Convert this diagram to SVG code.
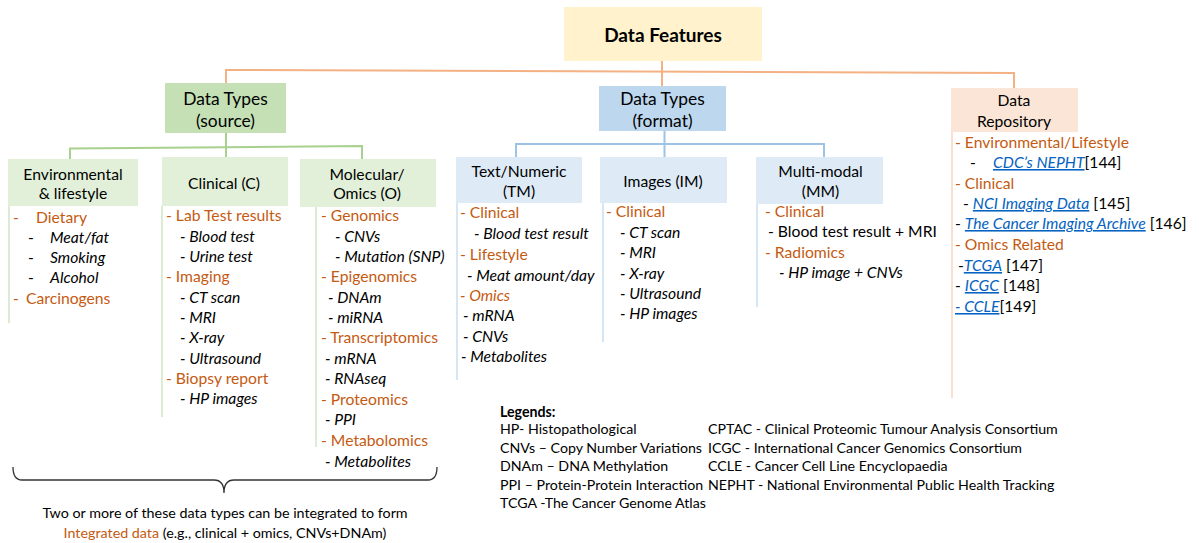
<svg xmlns="http://www.w3.org/2000/svg" width="1199" height="543" viewBox="0 0 1199 543">
  <style>
    text { font-family: Lato, "Liberation Sans", sans-serif; fill: #000; }
    .title { font-size: 19px; font-weight: bold; text-anchor: middle; }
    .h1 { font-size: 17.4px; text-anchor: middle; }
    .h2 { font-size: 15.7px; text-anchor: middle; }
    .li { font-size: 15.7px; }
    .o { fill: #C55A11; }
    .i { font-style: italic; }
    .lk { fill: #0563C1; font-style: italic; text-decoration: underline; }
    .lg { font-size: 14.2px; }
    .lgb { font-size: 14.2px; font-weight: bold; }
    .note { font-size: 14.3px; text-anchor: middle; }
    .col-g { stroke: #DCEBD2; stroke-width: 2; fill: none; }
    .col-b { stroke: #D6E6F5; stroke-width: 2; fill: none; }
    .col-o { stroke: #FBE0CF; stroke-width: 2; fill: none; }
    .c-o { stroke: #F4B183; stroke-width: 2; fill: none; }
    .c-g { stroke: #A9D18E; stroke-width: 2; fill: none; }
    .c-b { stroke: #9DC3E6; stroke-width: 2; fill: none; }
  </style>

  <!-- connectors -->
  <g id="connectors">
    <path class="c-o" d="M226,83 L226,70 L1014,73 L1014,88"/>
    <path class="c-o" d="M662,61 L662,86"/>
    <path class="c-g" d="M70,159 L70,148.5 L362,146 L362,159"/>
    <path class="c-g" d="M226,133 L226,157"/>
    <path class="c-b" d="M516,157 L516,144 L824,144 L824,157"/>
    <path class="c-b" d="M664.5,131 L664.5,157"/>
  </g>

  <!-- root -->
  <g id="data-features">
    <rect x="564" y="7" width="198" height="54" fill="#FFF2CC"/>
    <text class="title" x="663" y="41.5">Data Features</text>
  </g>

  <!-- level 1 -->
  <g id="types-source">
    <rect x="165" y="83" width="121" height="50" fill="#C5E0B4"/>
    <text class="h1" x="225.5" y="105">Data Types</text>
    <text class="h1" x="225.5" y="127">(source)</text>
  </g>
  <g id="types-format">
    <rect x="599" y="86" width="127" height="45" fill="#BDD7EE"/>
    <text class="h1" x="662.5" y="105">Data Types</text>
    <text class="h1" x="662.5" y="127">(format)</text>
  </g>
  <g id="repository">
    <rect x="951" y="88" width="127" height="44" fill="#FBE5D6"/>
    <text class="h2" x="1014" y="106">Data</text>
    <text class="h2" x="1014" y="127">Repository</text>
    <path class="col-o" d="M952,132 L952,398"/>
    <text class="li o" x="955" y="148">- Environmental/Lifestyle</text>
    <text class="li" x="970" y="168">-</text>
    <text class="li" x="993" y="168"><tspan class="lk">CDC’s NEPHT</tspan>[144]</text>
    <text class="li o" x="955" y="189">- Clinical</text>
    <text class="li" x="963" y="209">- <tspan class="lk">NCI Imaging Data</tspan> [145]</text>
    <text class="li" x="955" y="229">- <tspan class="lk">The Cancer Imaging Archive</tspan> [146]</text>
    <text class="li o" x="955" y="250">- Omics Related</text>
    <text class="li" x="958" y="271">-<tspan class="lk">TCGA</tspan> [147]</text>
    <text class="li" x="955" y="291">- <tspan class="lk">ICGC</tspan> [148]</text>
    <text class="li" x="955" y="312"><tspan class="lk">- CCLE</tspan>[149]</text>
  </g>

  <!-- source branch -->
  <g id="environmental">
    <rect x="8" y="159" width="130" height="47" fill="#E2F0D9"/>
    <text class="h2" x="73" y="180">Environmental</text>
    <text class="h2" x="73" y="199">&amp; lifestyle</text>
    <path class="col-g" d="M9,206 L9,323"/>
    <text class="li o" x="13" y="223">-</text>
    <text class="li o" x="36" y="223">Dietary</text>
    <text class="li" x="28" y="243">-</text>
    <text class="li i" x="50" y="243">Meat/fat</text>
    <text class="li" x="28" y="263">-</text>
    <text class="li i" x="50" y="263">Smoking</text>
    <text class="li" x="28" y="283">-</text>
    <text class="li i" x="50" y="283">Alcohol</text>
    <text class="li o" x="13" y="304">-</text>
    <text class="li o" x="26" y="304">Carcinogens</text>
  </g>

  <g id="clinical">
    <rect x="162" y="157" width="126" height="49" fill="#E2F0D9"/>
    <text class="h2" x="224" y="189">Clinical (C)</text>
    <path class="col-g" d="M162,206 L162,417"/>
    <text class="li o" x="166" y="221">- Lab Test results</text>
    <text class="li i" x="180" y="241.5">- Blood test</text>
    <text class="li i" x="180" y="262">- Urine test</text>
    <text class="li o" x="166" y="282">- Imaging</text>
    <text class="li i" x="180" y="302.5">- CT scan</text>
    <text class="li i" x="180" y="323">- MRI</text>
    <text class="li i" x="180" y="343">- X-ray</text>
    <text class="li i" x="180" y="363.5">- Ultrasound</text>
    <text class="li o" x="166" y="384">- Biopsy report</text>
    <text class="li i" x="180" y="404">- HP images</text>
  </g>

  <g id="molecular">
    <rect x="300" y="159" width="136" height="48" fill="#E2F0D9"/>
    <text class="h2" x="367" y="180">Molecular/</text>
    <text class="h2" x="367" y="199">Omics (O)</text>
    <path class="col-g" d="M316,207 L316,447"/>
    <text class="li o" x="321" y="221">- Genomics</text>
    <text class="li i" x="335" y="241.5">- CNVs</text>
    <text class="li i" x="335" y="262">- Mutation (SNP)</text>
    <text class="li o" x="321" y="282">- Epigenomics</text>
    <text class="li i" x="328" y="302.5">- DNAm</text>
    <text class="li i" x="328" y="323">- miRNA</text>
    <text class="li o" x="321" y="343">- Transcriptomics</text>
    <text class="li i" x="325" y="364">- mRNA</text>
    <text class="li i" x="325" y="384">- RNAseq</text>
    <text class="li o" x="321" y="405">- Proteomics</text>
    <text class="li i" x="325" y="425">- PPI</text>
    <text class="li o" x="321" y="446">- Metabolomics</text>
    <text class="li i" x="325" y="467">- Metabolites</text>
  </g>

  <!-- format branch -->
  <g id="text-numeric">
    <rect x="456" y="157" width="126" height="46" fill="#DEEBF7"/>
    <text class="h2" x="519" y="177">Text/Numeric</text>
    <text class="h2" x="519" y="197">(TM)</text>
    <path class="col-b" d="M457,203 L457,380"/>
    <text class="li o" x="460" y="218">- Clinical</text>
    <text class="li i" x="474" y="239">- Blood test result</text>
    <text class="li o" x="460" y="260">- Lifestyle</text>
    <text class="li i" x="467" y="281">- Meat amount/day</text>
    <text class="li o i" x="460" y="301">- Omics</text>
    <text class="li i" x="463" y="321">- mRNA</text>
    <text class="li i" x="463" y="342">- CNVs</text>
    <text class="li i" x="461" y="362">- Metabolites</text>
  </g>

  <g id="images">
    <rect x="600" y="157" width="127" height="46" fill="#DEEBF7"/>
    <text class="h2" x="663" y="187">Images (IM)</text>
    <path class="col-b" d="M603,203 L603,342"/>
    <text class="li o" x="606" y="217">- Clinical</text>
    <text class="li i" x="620" y="238">- CT scan</text>
    <text class="li i" x="620" y="258">- MRI</text>
    <text class="li i" x="620" y="279">- X-ray</text>
    <text class="li i" x="620" y="299">- Ultrasound</text>
    <text class="li i" x="620" y="319">- HP images</text>
  </g>

  <g id="multi-modal">
    <rect x="756" y="157" width="127" height="47" fill="#DEEBF7"/>
    <text class="h2" x="820.5" y="177">Multi-modal</text>
    <text class="h2" x="820.5" y="197">(MM)</text>
    <path class="col-b" d="M757,204 L757,307"/>
    <text class="li o" x="765" y="217">- Clinical</text>
    <text class="li" x="768" y="237">- Blood test result + MRI</text>
    <text class="li o" x="765" y="258">- Radiomics</text>
    <text class="li i" x="779" y="278">- HP image + CNVs</text>
  </g>

  <!-- brace and integration note -->
  <g id="integration">
    <path d="M13,467 Q13,480 22,480 L214,480 Q224,480 224,493 Q224,480 234,480 L428,480 Q437,480 437,467" fill="none" stroke="#333" stroke-width="1.3"/>
    <text class="note" x="225" y="518">Two or more of these data types can be integrated to form</text>
    <text class="note" x="225" y="538"><tspan class="o">Integrated data</tspan> (e.g., clinical + omics, CNVs+DNAm)</text>
  </g>

  <!-- abbreviations -->
  <g id="legends">
    <text class="lgb" x="500" y="417">Legends:</text>
    <text class="lg" x="500" y="434">HP- Histopathological</text>
    <text class="lg" x="500" y="452.5">CNVs – Copy Number Variations</text>
    <text class="lg" x="500" y="471">DNAm – DNA Methylation</text>
    <text class="lg" x="500" y="489.5">PPI – Protein-Protein Interaction</text>
    <text class="lg" x="500" y="508">TCGA -The Cancer Genome Atlas</text>
    <text class="lg" x="708" y="434">CPTAC - Clinical Proteomic Tumour Analysis Consortium</text>
    <text class="lg" x="708" y="452.5">ICGC - International Cancer Genomics Consortium</text>
    <text class="lg" x="708" y="471">CCLE - Cancer Cell Line Encyclopaedia</text>
    <text class="lg" x="708" y="489.5">NEPHT - National Environmental Public Health Tracking</text>
  </g>
</svg>
